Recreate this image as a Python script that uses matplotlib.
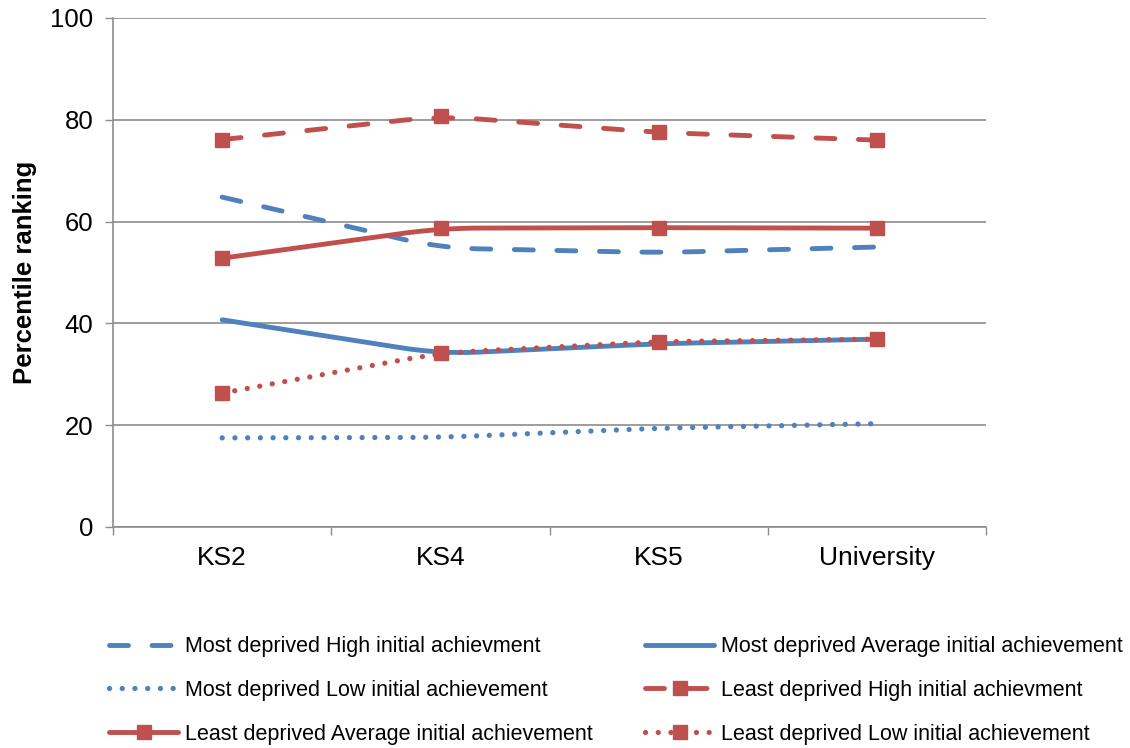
import numpy as np
import matplotlib
matplotlib.use('Agg')
import matplotlib.pyplot as plt

plt.rcParams['font.family'] = ['Liberation Sans', 'DejaVu Sans']

stages = ['KS2', 'KS4', 'KS5', 'University']

most_high = [64.8, 54.8, 53.9, 55.0]
most_avg = [40.7, 34.0, 36.0, 36.9]
most_low = [17.5, 17.6, 19.4, 20.3]
least_high = [76.1, 80.7, 77.5, 76.0]
least_avg = [52.8, 58.7, 58.8, 58.7]
least_low = [26.3, 34.2, 36.4, 36.9]

labels = ['Most deprived High initial achievment',
          'Most deprived Average initial achievement',
          'Most deprived Low initial achievement',
          'Least deprived High initial achievment',
          'Least deprived Average initial achievement',
          'Least deprived Low initial achievement']

blue = '#4F81BD'
red = '#C0504D'
grid_col = '#8C8C8C'


def smooth(x, y, n=30, r=0.18):
    # straight segments with rounded corners at the inner points
    x = np.asarray(x, float)
    y = np.asarray(y, float)
    xs, ys = [x[0]], [y[0]]
    t = np.linspace(0, 1, n)
    for i in range(1, len(x) - 1):
        a = (x[i] - r * (x[i] - x[i - 1]), y[i] - r * (y[i] - y[i - 1]))
        b = (x[i] + r * (x[i + 1] - x[i]), y[i] + r * (y[i + 1] - y[i]))
        xs.extend((1 - t)**2 * a[0] + 2 * t * (1 - t) * x[i] + t**2 * b[0])
        ys.extend((1 - t)**2 * a[1] + 2 * t * (1 - t) * y[i] + t**2 * b[1])
    xs.append(x[-1])
    ys.append(y[-1])
    return np.array(xs), np.array(ys)


fig = plt.figure(figsize=(11.3, 7.48), dpi=100)
ax = fig.add_axes([0.1, 0.2955, 0.773, 0.6805])

xpos = np.arange(len(stages)) + 0.5
lw = 3.5
dash = (3.9, 4.85)
dot = (0.01, 2.4)

series = [
    (most_high, blue, dict(dashes=dash, dash_capstyle='round'), None),
    (most_avg, blue, dict(linestyle='-', solid_capstyle='round'), None),
    (most_low, blue, dict(dashes=dot, dash_capstyle='round', linewidth=3.8), None),
    (least_high, red, dict(dashes=dash, dash_capstyle='round'), 's'),
    (least_avg, red, dict(linestyle='-', solid_capstyle='round'), 's'),
    (least_low, red, dict(dashes=dot, dash_capstyle='round', linewidth=3.8), 's'),
]

handles = []
for (vals, col, style, mk), lab in zip(series, labels):
    sx, sy = smooth(xpos, vals)
    kw = dict(linewidth=lw)
    kw.update(style)
    h, = ax.plot(sx, sy, color=col, label=lab, zorder=3, **kw)
    if mk:
        ax.plot(xpos, vals, linestyle='none', marker=mk, markersize=10.5,
                color=col, zorder=4)
        h.set_marker(mk)
        h.set_markersize(10.5)
        h.set_markerfacecolor(col)
        h.set_markeredgecolor(col)
        h.set_markevery([])
    handles.append(h)

ax.set_xlim(0, len(stages))
ax.set_ylim(0, 100)
ax.set_yticks(range(0, 101, 20))
ax.set_xticks(range(len(stages) + 1))
ax.set_xticklabels([])
ax.set_xticks(xpos, minor=True)
ax.set_xticklabels(stages, minor=True)
ax.tick_params(axis='x', which='minor', length=0, pad=14, labelsize=19)
ax.tick_params(axis='x', which='major', length=6, color=grid_col, width=1)
ax.tick_params(axis='y', length=6, color=grid_col, width=1, labelsize=18.5, pad=8)

ax.grid(axis='y', color=grid_col, linewidth=1.2)
ax.set_axisbelow(True)
for s in ['top', 'right']:
    ax.spines[s].set_visible(False)
for s in ['left', 'bottom']:
    ax.spines[s].set_color(grid_col)
    ax.spines[s].set_linewidth(1.2)

ax.set_ylabel('Percentile ranking', fontsize=18.5, fontweight='bold', labelpad=10)

order = [0, 2, 4, 1, 3, 5]
leg = fig.legend([handles[i] for i in order], [labels[i] for i in order],
                 loc='upper left', bbox_to_anchor=(0.089, 0.161), ncol=2,
                 frameon=False, fontsize=15.5, handlelength=3.2, handletextpad=0.3,
                 columnspacing=2.46, labelspacing=1.06, borderaxespad=0)
for lh in leg.legend_handles:
    if lh.get_marker() not in (None, 'None', ''):
        lh.set_markevery([1])

fig.savefig('out.png', dpi=100)
